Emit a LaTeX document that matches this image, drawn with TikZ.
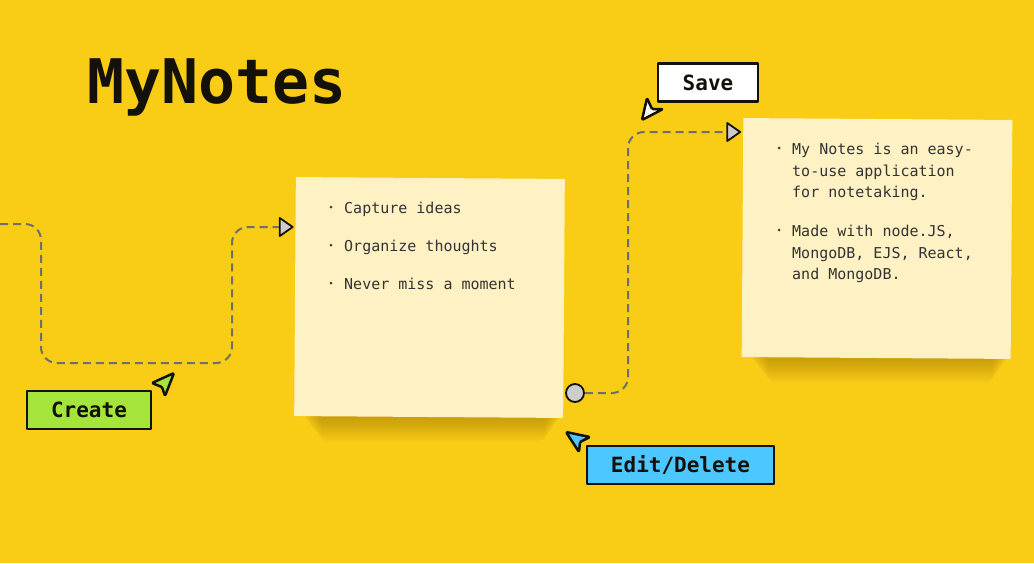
\documentclass[tikz,border=0pt]{standalone}
\usepackage{fontspec}
\setmonofont{DejaVu Sans Mono}
\usetikzlibrary{shapes.geometric}
\definecolor{bgyellow}{RGB}{249,204,22}
\definecolor{notefill}{RGB}{254,241,196}
\definecolor{btngreen}{RGB}{165,228,58}
\definecolor{btnblue}{RGB}{76,199,255}
\definecolor{dashgray}{RGB}{110,110,110}
\definecolor{inkdark}{RGB}{20,17,10}
\definecolor{shadowbrown}{RGB}{120,80,0}

\begin{document}
\begin{tikzpicture}[x=1pt,y=-1pt,line join=round,
    note box/.style={fill=notefill,minimum width=269pt,minimum height=239pt,inner sep=0pt,rotate=-0.4},
    note text/.style={anchor=base west,inner sep=0pt,text=black!80,font=\ttfamily\fontsize{15}{18}\selectfont},
    bullet dot/.style={circle,fill=black!75,inner sep=0pt,minimum size=3pt},
    btn/.style={draw=inkdark,line width=2.5pt,inner sep=0pt,minimum height=38pt,text=inkdark,font=\ttfamily\bfseries\fontsize{21}{25}\selectfont},
    flow/.style={draw=dashgray,line width=2pt,dash pattern=on 8pt off 5pt,rounded corners=16pt},
    end mark/.style={isosceles triangle,isosceles triangle apex angle=70,draw=inkdark,line width=1.8pt,fill=black!20,inner sep=0pt,minimum height=11pt,minimum width=18pt},
    cursor/.style={draw=inkdark,line width=2.5pt,rounded corners=1.2pt}]

    \fill[bgyellow] (0,0) rectangle (1034,563);
    \useasboundingbox (0,0) rectangle (1034,563);

    % title
    \node[anchor=base west,inner sep=0pt,text=inkdark,font=\ttfamily\bfseries\fontsize{61.5}{72}\selectfont] (title) at (87,103) {MyNotes};

    % sticky notes (soft shadow first)
    \coordinate (c1) at (429.5,297.5);
    \coordinate (c2) at (877,238.5);
    \foreach \c in {c1,c2}{
        \foreach \k in {0,...,11}
            \fill[shadowbrown,opacity=0.03,rounded corners=6pt]
                ([xshift={(-126+1.6*\k)*1pt},yshift=-110pt]\c) rectangle ([xshift={(131-1.4*\k)*1pt},yshift={(-122-2*\k)*1pt}]\c);
    }
    \node[note box] (note1) at (c1) {};
    \node[note box] (note2) at (c2) {};

    \foreach \txt [count=\i] in {Capture ideas,Organize thoughts,Never miss a moment}{
        \node[bullet dot] (b1\i) at (331,{207+38*(\i-1)}) {};
        \node[note text] (t1\i) at (344,{213+38*(\i-1)}) {\txt};
    }

    \node[bullet dot] (b21) at (779,148) {};
    \node[bullet dot] (b22) at (779,230) {};
    \foreach \txt/\yy in {My Notes is an easy-/154,to-use application/176,for notetaking./197,
                         {Made with node.JS,}/236,{MongoDB, EJS, React,}/258,and MongoDB./279}{
        \node[note text] at (792,\yy) {\txt};
    }

    % connectors
    \coordinate (start) at (0,224);
    \node[end mark] (arr1) at (284.5,227) {};
    \node[end mark] (arr2) at (732,132) {};
    \node[circle,draw=inkdark,line width=1.8pt,fill=black!20,minimum size=18pt,inner sep=0pt] (knob) at (575,393) {};

    \draw[flow] (start) -- (41,224) -- (41,363) -- (232,363) -- (232,227) -- (arr1.west);
    \draw[flow] (knob.east) -- (628,393) -- (628,132) -- (arr2.west);

    % buttons
    \node[btn,fill=btngreen,minimum width=124pt] (create) at (89,410) {Create};
    \node[btn,fill=white,minimum width=100pt] (save) at (708,82.5) {Save};
    \node[btn,fill=btnblue,minimum width=187pt] (edit) at (680.5,465) {Edit/Delete};

    % pointers
    \draw[cursor,fill=btngreen] (174,373) -- (152,383) -- (162,387) -- (165,396) -- cycle;
    \draw[cursor,fill=white] (642,120) -- (647,98) -- (652,109) -- (663,109) -- cycle;
    \draw[cursor,fill=btnblue] (566,432) -- (590,437) -- (580,442) -- (579,452) -- cycle;
\end{tikzpicture}
\end{document}
